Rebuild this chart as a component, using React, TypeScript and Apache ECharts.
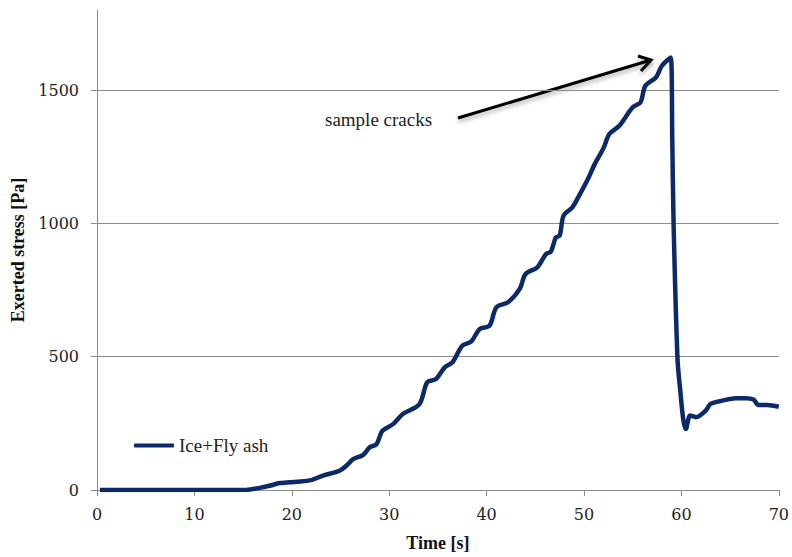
import React, { useEffect, useRef } from "react";
import * as echarts from "echarts";

const seriesName = "Ice+Fly ash";
const times = [0.3, 2, 5, 10, 15, 15.7, 16.7, 17.7, 18.8, 20.5, 22.0, 23.2, 24.9, 25.6, 26.3, 27.3, 28.0, 28.7, 29.3, 30.4, 31.4, 33.1, 33.9, 34.8, 35.7, 36.5, 37.5, 38.4, 39.3, 40.3, 41.0, 42.2, 43.4, 44.0, 45.2, 46.1, 46.6, 47.1, 47.5, 47.9, 48.8, 49.5, 50.4, 51.1, 52.0, 52.6, 53.6, 55.0, 55.8, 56.3, 57.4, 58.0, 58.9, 59.06, 59.2, 59.6, 59.9, 60.2, 60.45, 60.9, 61.5, 62.5, 63.0, 64.2, 65.6, 66.6, 67.4, 67.9, 68.8, 70];
const stress = [0, 0, 0, 0, 0, 2, 8, 16, 26, 31, 37, 54, 72, 91, 116, 131, 160, 172, 222, 247, 285, 322, 404, 416, 460, 479, 541, 556, 604, 616, 685, 704, 754, 810, 835, 885, 894, 947, 954, 1029, 1060, 1104, 1166, 1222, 1282, 1335, 1365, 1435, 1454, 1516, 1548, 1591, 1622, 1316, 991, 491, 366, 262, 229, 279, 273, 298, 323, 335, 344, 344, 339, 319, 319, 312];
const yTicks = [0, 500, 1000, 1500];
const xLabel = "Time [s]";
const yLabel = "Exerted stress [Pa]";
const annotation = "sample cracks";

export default function App() {
  const ref = useRef<HTMLDivElement>(null);
  useEffect(() => {
    document.body.style.margin = "0";
    const chart = echarts.init(ref.current!, null, { renderer: "svg" });
    const gray = "#8c8c8c";
    const tip = [651, 60];
    chart.setOption({
      animation: false,
      backgroundColor: "#ffffff",
      grid: { left: 97, right: 12, top: 10, bottom: 66 },
      xAxis: {
        type: "value",
        min: 0,
        max: 70,
        interval: 10,
        name: xLabel,
        nameLocation: "middle",
        nameGap: 44,
        nameTextStyle: { fontFamily: "Liberation Serif", fontWeight: "bold", fontSize: 18, color: "#111" },
        axisLine: { show: true, onZero: false, lineStyle: { color: gray, width: 1 } },
        axisTick: { show: true, inside: false, length: 6, lineStyle: { color: gray } },
        axisLabel: { fontFamily: "DejaVu Serif", fontSize: 16, color: "#222", margin: 16 },
        splitLine: { show: false },
      },
      yAxis: {
        type: "value",
        min: 0,
        max: 1800,
        interval: 500,
        name: yLabel,
        nameLocation: "middle",
        nameGap: 70,
        nameTextStyle: { fontFamily: "Liberation Serif", fontWeight: "bold", fontSize: 18, color: "#111" },
        axisLine: { show: true, lineStyle: { color: gray, width: 1 } },
        axisTick: { show: true, length: 6, lineStyle: { color: gray }, customValues: yTicks },
        axisLabel: {
          fontFamily: "DejaVu Serif",
          fontSize: 16,
          color: "#222",
          margin: 18,
          customValues: yTicks,
          formatter: (v: number) => String(v),
        },
        splitLine: { show: true, showMinLine: false, lineStyle: { color: gray, width: 1 } },
      },
      legend: {
        show: true,
        left: 129,
        top: 431,
        icon: "roundRect",
        itemWidth: 40,
        itemHeight: 4,
        textStyle: { fontFamily: "Liberation Serif", fontSize: 19, color: "#222" },
        data: [seriesName],
      },
      series: [
        {
          name: seriesName,
          type: "line",
          data: times.map((t, i) => [t, stress[i]]),
          showSymbol: false,
          symbol: "none",
          smooth: 0.3,
          lineStyle: { color: "#0c2a6a", width: 4.5 },
          itemStyle: { color: "#0c2a6a" },
        },
      ],
      graphic: [
        {
          type: "text",
          x: 325,
          y: 119,
          style: {
            text: annotation,
            fontFamily: "Liberation Serif",
            fontSize: 19,
            fill: "#222",
            textVerticalAlign: "middle",
          },
        },
        {
          type: "line",
          shape: { x1: 458, y1: 118, x2: tip[0], y2: tip[1] },
          style: { stroke: "#000", lineWidth: 3, shadowBlur: 4, shadowOffsetY: 3, shadowColor: "rgba(0,0,0,0.3)" },
        },
        {
          type: "polyline",
          shape: { points: [[tip[0] - 13, tip[1] - 4], tip, [tip[0] - 10, tip[1] + 11]] },
          style: { stroke: "#000", lineWidth: 3, fill: "none", lineJoin: "miter", shadowBlur: 4, shadowOffsetY: 3, shadowColor: "rgba(0,0,0,0.3)" },
        },
      ],
    });
    return () => chart.dispose();
  }, []);
  return <div ref={ref} style={{ width: 792, height: 557 }} />;
}
